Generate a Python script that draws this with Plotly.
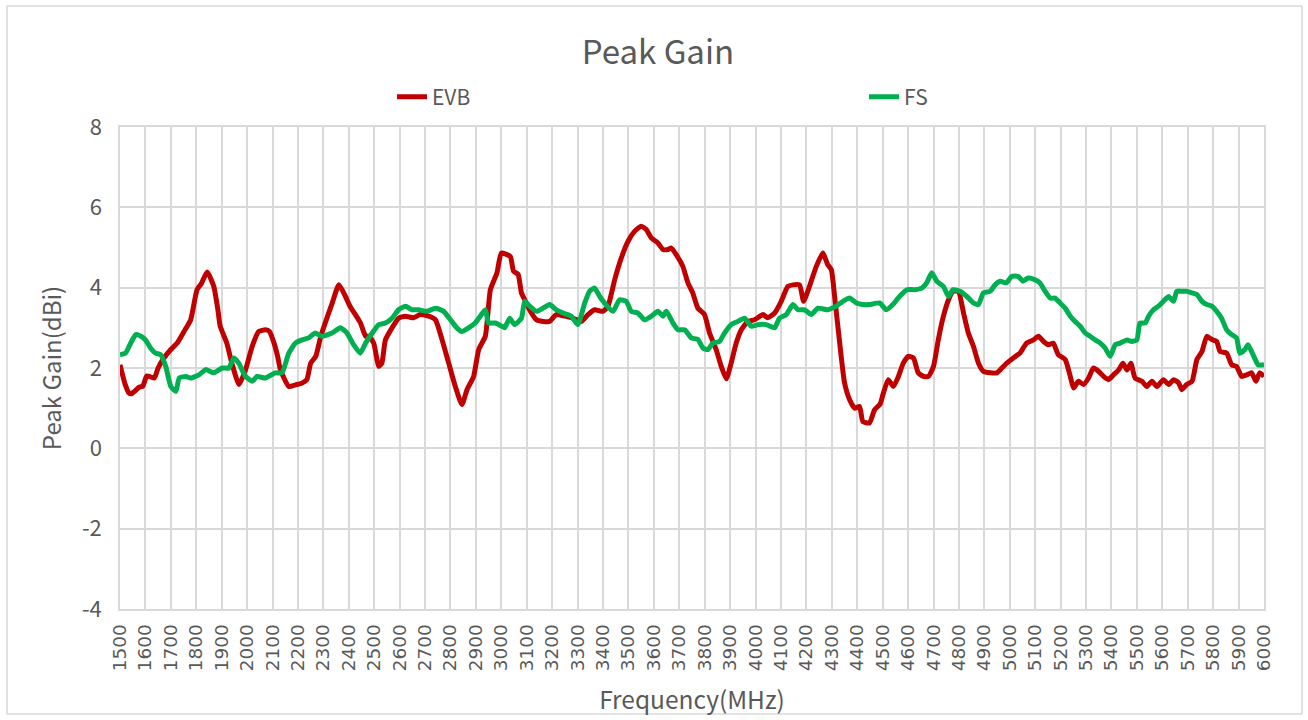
import plotly.graph_objects as go

# ---------------- data ----------------
evb_freq = [1500,1520,1535,1545,1575,1590,1605,1620,1635,1650,1673,1700,1725,1752,1778,1803,1820,1843,1869,1885,1894,1920,1940,1968,1994,2020,2046,2072,2088,2106,2120,2131,2164,2190,2215,2235,2250,2270,2290,2335,2361,2387,2405,2426,2446,2466,2480,2498,2518,2530,2544,2570,2596,2623,2655,2681,2714,2741,2767,2793,2819,2845,2865,2891,2911,2937,2957,2983,3000,3035,3048,3066,3079,3092,3111,3138,3164,3190,3216,3249,3282,3315,3341,3367,3400,3419,3446,3472,3498,3524,3550,3570,3590,3616,3636,3655,3668,3688,3714,3734,3753,3773,3799,3819,3845,3865,3885,3904,3924,3944,3970,3996,4029,4048,4075,4101,4127,4147,4173,4189,4212,4239,4265,4284,4298,4311,4331,4350,4370,4390,4409,4422,4448,4468,4490,4503,4522,4542,4562,4581,4601,4621,4640,4660,4680,4700,4719,4739,4759,4777,4798,4818,4837,4857,4877,4896,4923,4949,4969,4988,5014,5040,5066,5093,5113,5133,5152,5171,5191,5218,5238,5251,5270,5290,5310,5329,5349,5369,5388,5408,5428,5445,5461,5476,5493,5520,5539,5559,5579,5604,5625,5644,5664,5677,5696,5717,5736,5756,5775,5795,5814,5827,5853,5873,5892,5912,5932,5951,5968,5983,6000]
evb_gain = [2.08,1.6,1.38,1.36,1.52,1.55,1.8,1.78,1.75,2.0,2.25,2.46,2.62,2.91,3.2,3.95,4.1,4.39,4.03,3.45,3.04,2.62,2.12,1.59,1.96,2.54,2.91,2.95,2.91,2.62,2.29,1.96,1.54,1.58,1.62,1.71,2.12,2.29,2.79,3.62,4.07,3.78,3.53,3.33,3.12,2.79,2.79,2.62,2.04,2.12,2.7,3.0,3.24,3.29,3.25,3.33,3.29,3.2,2.7,2.12,1.54,1.09,1.46,1.79,2.46,2.79,3.95,4.37,4.86,4.78,4.41,4.33,3.87,3.7,3.45,3.2,3.16,3.16,3.33,3.29,3.24,3.16,3.33,3.45,3.41,3.53,4.2,4.74,5.15,5.4,5.53,5.45,5.24,5.11,4.95,4.95,4.99,4.82,4.53,4.12,3.87,3.49,3.33,2.87,2.46,2.04,1.73,2.12,2.62,2.95,3.16,3.2,3.33,3.25,3.37,3.66,4.03,4.07,4.07,3.66,4.03,4.53,4.86,4.57,4.45,3.78,2.62,1.63,1.21,1.0,1.04,0.67,0.63,0.96,1.1,1.38,1.71,1.54,1.79,2.12,2.29,2.25,1.88,1.79,1.79,2.04,2.71,3.29,3.7,3.91,3.91,3.37,2.87,2.54,2.12,1.92,1.88,1.88,2.0,2.12,2.25,2.37,2.62,2.7,2.79,2.66,2.58,2.62,2.33,2.21,1.79,1.5,1.67,1.59,1.75,2.0,1.92,1.79,1.71,1.83,1.95,2.12,1.95,2.12,1.75,1.67,1.54,1.67,1.54,1.71,1.59,1.71,1.63,1.46,1.59,1.67,2.21,2.41,2.79,2.71,2.66,2.41,2.37,2.08,2.04,1.79,1.83,1.88,1.67,1.88,1.79]

fs_freq = [1500,1522,1542,1562,1582,1600,1620,1640,1660,1680,1700,1720,1733,1759,1778,1811,1837,1869,1902,1928,1948,1967,1994,2020,2039,2072,2111,2137,2164,2190,2216,2242,2268,2294,2334,2367,2393,2419,2445,2466,2492,2518,2544,2570,2596,2623,2648,2675,2707,2741,2773,2800,2825,2845,2871,2897,2917,2937,2950,2976,3002,3013,3033,3052,3079,3092,3111,3138,3164,3190,3216,3242,3275,3301,3328,3347,3367,3387,3406,3439,3465,3491,3511,3537,3563,3590,3616,3636,3649,3675,3695,3721,3747,3773,3793,3813,3832,3858,3878,3904,3930,3957,3983,4009,4042,4075,4094,4121,4147,4167,4193,4219,4245,4284,4317,4344,4370,4396,4422,4448,4488,4514,4540,4566,4598,4625,4654,4673,4693,4713,4739,4759,4777,4805,4831,4857,4877,4896,4923,4942,4962,4987,5007,5033,5052,5072,5098,5118,5139,5159,5178,5198,5218,5238,5257,5277,5297,5316,5336,5356,5375,5395,5415,5434,5461,5480,5500,5512,5533,5546,5565,5585,5604,5625,5644,5657,5677,5696,5717,5736,5756,5775,5795,5814,5833,5853,5873,5892,5905,5925,5937,5957,5977,6000]
fs_gain = [2.33,2.37,2.62,2.83,2.79,2.7,2.5,2.37,2.33,2.04,1.54,1.42,1.75,1.79,1.75,1.83,1.96,1.88,2.0,2.0,2.25,2.12,1.79,1.67,1.79,1.75,1.88,1.88,2.37,2.62,2.7,2.75,2.87,2.79,2.87,3.0,2.87,2.58,2.37,2.62,2.87,3.08,3.12,3.24,3.45,3.54,3.45,3.45,3.41,3.49,3.41,3.2,3.0,2.91,3.0,3.12,3.29,3.45,3.12,3.12,3.04,3.0,3.24,3.08,3.24,3.66,3.54,3.41,3.49,3.58,3.45,3.37,3.29,3.08,3.62,3.91,3.99,3.78,3.62,3.41,3.7,3.66,3.41,3.37,3.2,3.29,3.41,3.29,3.41,3.12,2.95,2.95,2.75,2.71,2.5,2.46,2.62,2.66,2.87,3.08,3.16,3.24,3.04,3.08,3.08,3.0,3.24,3.33,3.58,3.45,3.45,3.33,3.49,3.45,3.54,3.66,3.74,3.62,3.58,3.58,3.62,3.45,3.58,3.78,3.95,3.95,3.99,4.12,4.37,4.16,4.03,3.78,3.95,3.91,3.78,3.62,3.58,3.87,3.91,4.07,4.16,4.12,4.28,4.28,4.16,4.24,4.2,4.12,3.91,3.74,3.74,3.62,3.49,3.29,3.16,3.04,2.87,2.79,2.7,2.62,2.5,2.29,2.58,2.62,2.7,2.66,2.7,3.12,3.12,3.29,3.45,3.54,3.66,3.78,3.66,3.91,3.91,3.91,3.87,3.83,3.66,3.58,3.54,3.41,3.24,2.95,2.83,2.75,2.37,2.46,2.58,2.33,2.08,2.08]

x_ticks = list(range(1500, 6001, 100))
x_tick_labels = [str(v) for v in x_ticks]
y_ticks = [-4, -2, 0, 2, 4, 6, 8]
y_tick_labels = ["-4", "-2", "0", "2", "4", "6", "8"]

series_names = ["EVB", "FS"]
# ---------------------------------------

FONT = "Noto Sans CJK SC, Noto Sans, sans-serif"
TICKFONT_X = "DejaVu Sans, Noto Sans, sans-serif"
TXT = "#595959"
GRID = "#D9D9D9"

fig = go.Figure()
fig.add_trace(go.Scatter(x=evb_freq, y=evb_gain, mode="lines", name=series_names[0],
                         line=dict(color="#C00000", width=5, shape="spline", smoothing=0.5)))
fig.add_trace(go.Scatter(x=fs_freq, y=fs_gain, mode="lines", name=series_names[1],
                         line=dict(color="#00B050", width=5, shape="spline", smoothing=0.5)))

fig.update_layout(
    width=1308, height=720,
    margin=dict(l=120, r=44, t=127, b=111, autoexpand=False),
    paper_bgcolor="white", plot_bgcolor="white",
    font=dict(family=FONT, color=TXT, size=17),
    title=dict(text="Peak Gain", x=0.503, xref="container", y=1 - 52 / 720, yref="container",
               xanchor="center", yanchor="middle", font=dict(size=33, color=TXT, family=FONT)),
    legend=dict(orientation="h", xref="container", yref="container", x=392 / 1308, y=1 - 97 / 720,
                xanchor="left", yanchor="middle", entrywidth=427, entrywidthmode="pixels",
                font=dict(size=21, color=TXT, family=FONT), bgcolor="rgba(0,0,0,0)"),
    xaxis=dict(range=[1500, 6000], tickmode="array", tickvals=x_ticks, ticktext=x_tick_labels,
               tickangle=-90, showgrid=True, gridcolor=GRID, gridwidth=1.5, zeroline=False,
               showline=True, linecolor=GRID, linewidth=1.5, mirror=True, ticks="",
               ticklabelstandoff=6,
               tickfont=dict(size=18.5, color=TXT, family=TICKFONT_X),
               title=dict(text="Frequency(MHz)", font=dict(size=24.5, color=TXT), standoff=22)),
    yaxis=dict(range=[-4, 8], tickmode="array", tickvals=y_ticks, ticktext=y_tick_labels,
               showgrid=True, gridcolor=GRID,
               gridwidth=1.5, zeroline=False, showline=True, linecolor=GRID, linewidth=1.5,
               mirror=True, ticks="", ticklabelstandoff=12, tickfont=dict(size=22, color=TXT),
               title=dict(text="Peak Gain(dBi)", font=dict(size=24, color=TXT), standoff=14)),
    shapes=[dict(type="rect", xref="paper", yref="paper", layer="below",
                 x0=-113 / 1144, x1=1 + 38 / 1144, y0=-105 / 482, y1=1 + 121 / 482,
                 line=dict(color=GRID, width=1.5))],
)

fig.write_html("out.html", config={"displayModeBar": False},
               post_script="document.body.style.margin='0px';")
